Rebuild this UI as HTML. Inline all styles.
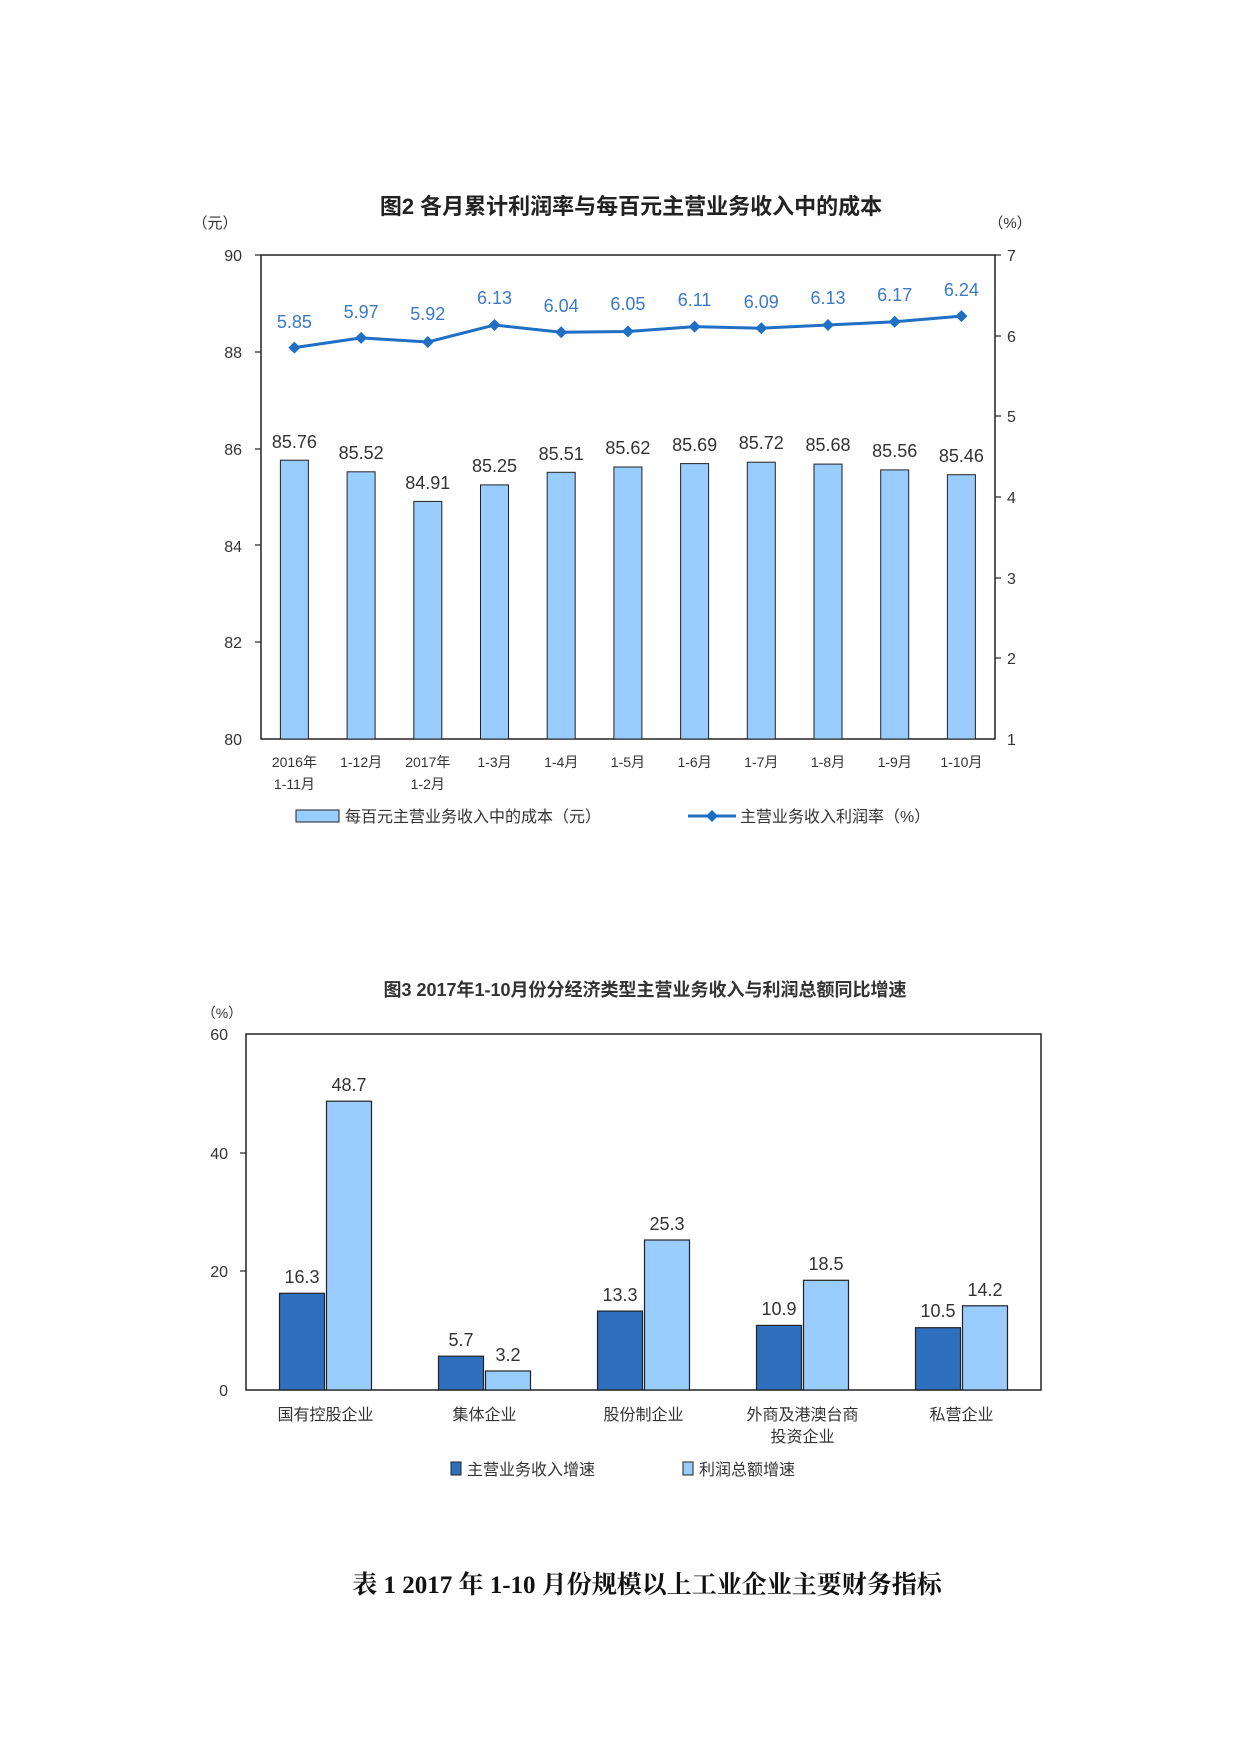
<!DOCTYPE html>
<html><head><meta charset="utf-8"><style>
html,body{margin:0;padding:0;background:#fff;}
svg{display:block;}
text{font-family:"Liberation Sans","Noto Sans CJK SC",sans-serif;}
</style></head><body>
<svg width="1241" height="1754" viewBox="0 0 1241 1754" xmlns="http://www.w3.org/2000/svg">
<text x="631" y="214" font-size="22" font-weight="bold" text-anchor="middle" fill="#222">图2  各月累计利润率与每百元主营业务收入中的成本</text>
<text x="215" y="228" font-size="15" text-anchor="middle" fill="#333">（元）</text>
<text x="1010" y="228" font-size="15" text-anchor="middle" fill="#333">（%）</text>
<rect x="261" y="255" width="734" height="484" fill="none" stroke="#222" stroke-width="1.5"/>
<g font-size="16" fill="#333" text-anchor="end">
<text x="242" y="261">90</text><text x="242" y="358">88</text><text x="242" y="455">86</text><text x="242" y="552">84</text><text x="242" y="648">82</text><text x="242" y="745">80</text>
</g>
<g stroke="#222" stroke-width="1.2">
<line x1="255" y1="255" x2="261" y2="255"/><line x1="255" y1="352" x2="261" y2="352"/><line x1="255" y1="449" x2="261" y2="449"/><line x1="255" y1="545" x2="261" y2="545"/><line x1="255" y1="642" x2="261" y2="642"/>
<line x1="995" y1="255" x2="1001" y2="255"/><line x1="995" y1="336" x2="1001" y2="336"/><line x1="995" y1="416" x2="1001" y2="416"/><line x1="995" y1="497" x2="1001" y2="497"/><line x1="995" y1="578" x2="1001" y2="578"/><line x1="995" y1="658" x2="1001" y2="658"/>
</g>
<g font-size="16" fill="#333" text-anchor="start">
<text x="1007" y="261">7</text><text x="1007" y="342">6</text><text x="1007" y="422">5</text><text x="1007" y="503">4</text><text x="1007" y="584">3</text><text x="1007" y="664">2</text><text x="1007" y="745">1</text>
</g>
<g fill="#99ccff" stroke="#222" stroke-width="1">
<rect x="280.4" y="460.2" width="28" height="278.8"/>
<rect x="347.1" y="471.8" width="28" height="267.2"/>
<rect x="413.8" y="501.4" width="28" height="237.6"/>
<rect x="480.5" y="484.9" width="28" height="254.1"/>
<rect x="547.2" y="472.3" width="28" height="266.7"/>
<rect x="613.9" y="467" width="28" height="272"/>
<rect x="680.6" y="463.6" width="28" height="275.4"/>
<rect x="747.3" y="462.2" width="28" height="276.8"/>
<rect x="814" y="464.1" width="28" height="274.9"/>
<rect x="880.7" y="469.9" width="28" height="269.1"/>
<rect x="947.4" y="474.7" width="28" height="264.3"/>
</g>
<g font-size="18" fill="#333" text-anchor="middle">
<text x="294.4" y="448">85.76</text><text x="361.1" y="459">85.52</text><text x="427.8" y="489">84.91</text><text x="494.5" y="472">85.25</text><text x="561.2" y="460">85.51</text><text x="627.9" y="454">85.62</text><text x="694.6" y="451">85.69</text><text x="761.3" y="449">85.72</text><text x="828" y="451">85.68</text><text x="894.7" y="457">85.56</text><text x="961.4" y="462">85.46</text>
</g>
<polyline fill="none" stroke="#1f6fc5" stroke-width="3" points="294.4,347.6 361.1,337.9 427.8,342 494.5,325 561.2,332.3 627.9,331.5 694.6,326.6 761.3,328.2 828,325 894.7,321.8 961.4,316.1"/>
<g fill="#1f6fc5">
<path d="M294.4 341.6l6 6-6 6-6-6z"/><path d="M361.1 331.9l6 6-6 6-6-6z"/><path d="M427.8 336l6 6-6 6-6-6z"/><path d="M494.5 319l6 6-6 6-6-6z"/><path d="M561.2 326.3l6 6-6 6-6-6z"/><path d="M627.9 325.5l6 6-6 6-6-6z"/><path d="M694.6 320.6l6 6-6 6-6-6z"/><path d="M761.3 322.2l6 6-6 6-6-6z"/><path d="M828 319l6 6-6 6-6-6z"/><path d="M894.7 315.8l6 6-6 6-6-6z"/><path d="M961.4 310.1l6 6-6 6-6-6z"/>
</g>
<g font-size="18" fill="#3a7ac8" text-anchor="middle">
<text x="294.4" y="328">5.85</text><text x="361.1" y="318">5.97</text><text x="427.8" y="320">5.92</text><text x="494.5" y="304">6.13</text><text x="561.2" y="312">6.04</text><text x="627.9" y="310">6.05</text><text x="694.6" y="306">6.11</text><text x="761.3" y="308">6.09</text><text x="828" y="304">6.13</text><text x="894.7" y="301">6.17</text><text x="961.4" y="296">6.24</text>
</g>
<g font-size="14" fill="#333" text-anchor="middle">
<text x="294.4" y="767">2016年</text><text x="294.4" y="789">1-11月</text>
<text x="361.1" y="767">1-12月</text>
<text x="427.8" y="767">2017年</text><text x="427.8" y="789">1-2月</text>
<text x="494.5" y="767">1-3月</text><text x="561.2" y="767">1-4月</text><text x="627.9" y="767">1-5月</text><text x="694.6" y="767">1-6月</text><text x="761.3" y="767">1-7月</text><text x="828" y="767">1-8月</text><text x="894.7" y="767">1-9月</text><text x="961.4" y="767">1-10月</text>
</g>
<rect x="296" y="810" width="43" height="12" fill="#99ccff" stroke="#222" stroke-width="1"/>
<text x="345" y="822" font-size="16" fill="#333">每百元主营业务收入中的成本（元）</text>
<line x1="688" y1="816" x2="736" y2="816" stroke="#1f6fc5" stroke-width="3"/>
<path d="M712 810l6 6-6 6-6-6z" fill="#1f6fc5"/>
<text x="740" y="822" font-size="16" fill="#333">主营业务收入利润率（%）</text>

<text x="645" y="996" font-size="18" font-weight="bold" text-anchor="middle" fill="#333">图3 2017年1-10月份分经济类型主营业务收入与利润总额同比增速</text>
<text x="222" y="1018" font-size="14" text-anchor="middle" fill="#333">（%）</text>
<rect x="246" y="1034" width="795" height="356" fill="none" stroke="#222" stroke-width="1.5"/>
<g font-size="16" fill="#333" text-anchor="end">
<text x="228" y="1040">60</text><text x="228" y="1159">40</text><text x="228" y="1277">20</text><text x="228" y="1396">0</text>
</g>
<g stroke="#222" stroke-width="1.2">
<line x1="240" y1="1153" x2="246" y2="1153"/><line x1="240" y1="1271" x2="246" y2="1271"/>
</g>
<g stroke="#222" stroke-width="1.2">
<rect x="279.5" y="1293.3" width="45" height="96.7" fill="#2e6fbe"/>
<rect x="326.5" y="1101.2" width="45" height="288.8" fill="#99ccff"/>
<rect x="438.5" y="1356.2" width="45" height="33.8" fill="#2e6fbe"/>
<rect x="485.5" y="1371" width="45" height="19" fill="#99ccff"/>
<rect x="597.5" y="1311.1" width="45" height="78.9" fill="#2e6fbe"/>
<rect x="644.5" y="1240" width="45" height="150" fill="#99ccff"/>
<rect x="756.5" y="1325.4" width="45" height="64.6" fill="#2e6fbe"/>
<rect x="803.5" y="1280.3" width="45" height="109.7" fill="#99ccff"/>
<rect x="915.5" y="1327.7" width="45" height="62.3" fill="#2e6fbe"/>
<rect x="962.5" y="1305.8" width="45" height="84.2" fill="#99ccff"/>
</g>
<g font-size="18" fill="#333" text-anchor="middle">
<text x="302" y="1283">16.3</text><text x="349" y="1091">48.7</text>
<text x="461" y="1346">5.7</text><text x="508" y="1361">3.2</text>
<text x="620" y="1301">13.3</text><text x="667" y="1230">25.3</text>
<text x="779" y="1315">10.9</text><text x="826" y="1270">18.5</text>
<text x="938" y="1317">10.5</text><text x="985" y="1296">14.2</text>
</g>
<g font-size="16" fill="#333" text-anchor="middle">
<text x="325.5" y="1420">国有控股企业</text><text x="484.5" y="1420">集体企业</text><text x="643.5" y="1420">股份制企业</text><text x="802.5" y="1420">外商及港澳台商</text><text x="802.5" y="1442">投资企业</text><text x="961.5" y="1420">私营企业</text>
</g>
<rect x="451" y="1462" width="10" height="13" fill="#2e6fbe" stroke="#222"/>
<text x="467" y="1475" font-size="16" fill="#333">主营业务收入增速</text>
<rect x="683" y="1462" width="10" height="13" fill="#99ccff" stroke="#222"/>
<text x="699" y="1475" font-size="16" fill="#333">利润总额增速</text>

<text x="647" y="1593" font-size="25" font-weight="bold" text-anchor="middle" fill="#111" style="font-family:'Liberation Serif','Noto Serif CJK SC',serif">表 1  2017 年 1-10 月份规模以上工业企业主要财务指标</text>
</svg>
</body></html>
